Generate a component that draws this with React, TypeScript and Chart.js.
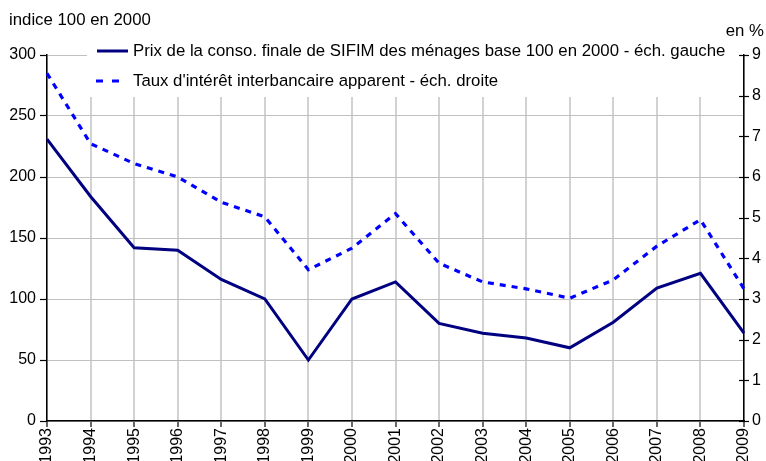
import React, { useEffect, useRef } from "react";
import { Chart, registerables } from "chart.js";

Chart.register(...registerables);

const years = ["1993","1994","1995","1996","1997","1998","1999","2000","2001","2002","2003","2004","2005","2006","2007","2008","2009"];
const prixSifim = [231, 184, 142, 140, 116, 100, 50, 100, 114, 80, 72, 68, 60, 81, 109, 121, 72];
const tauxInterbancaire = [8.55, 6.82, 6.33, 6.0, 5.38, 5.02, 3.72, 4.25, 5.1, 3.88, 3.42, 3.25, 3.02, 3.47, 4.3, 4.95, 3.25];
const legendLabels = [
  "Prix de la conso. finale de SIFIM des ménages base 100 en 2000 - éch. gauche",
  "Taux d'intérêt interbancaire apparent - éch. droite",
];
const leftTitle = "indice 100 en 2000";
const rightTitle = "en %";

const FONT = "'Liberation Sans', Arial, sans-serif";

const overlay = {
  id: "overlay",
  beforeDatasetsDraw(chart: any) {
    const ctx = chart.ctx;
    const area = chart.chartArea;
    ctx.save();
    ctx.fillStyle = "#ffffff";
    ctx.fillRect(87, 38, area.right - 2 - 87, 97 - 38);
    ctx.restore();
  },
  afterDraw(chart: any) {
    const ctx = chart.ctx;
    const area = chart.chartArea;
    ctx.save();
    ctx.fillStyle = "#000";
    ctx.font = `16.8px ${FONT}`;
    ctx.textBaseline = "middle";
    ctx.textAlign = "left";
    ctx.fillText(leftTitle, 9, 20);
    ctx.textAlign = "right";
    ctx.fillText(rightTitle, 764, 31);
    // legend
    ctx.textAlign = "left";
    ctx.lineWidth = 3;
    ctx.strokeStyle = "#000080";
    ctx.beginPath();
    ctx.moveTo(97, 51);
    ctx.lineTo(128, 51);
    ctx.stroke();
    ctx.strokeStyle = "#0000ff";
    ctx.setLineDash([7, 9]);
    ctx.beginPath();
    ctx.moveTo(96, 81);
    ctx.lineTo(128, 81);
    ctx.stroke();
    ctx.setLineDash([]);
    ctx.fillText(legendLabels[0], 133, 51);
    ctx.fillText(legendLabels[1], 133, 81);
    // right axis crossing ticks
    const y1 = chart.scales.y1;
    ctx.strokeStyle = "#000";
    ctx.lineWidth = 1.2;
    y1.ticks.forEach((t: any) => {
      const y = Math.round(y1.getPixelForValue(t.value)) + 0.5;
      ctx.beginPath();
      ctx.moveTo(area.right - 5, y);
      ctx.lineTo(area.right + 5, y);
      ctx.stroke();
    });
    ctx.restore();
  },
};

export default function App() {
  const ref = useRef<HTMLCanvasElement>(null);
  useEffect(() => {
    const chart = new Chart(ref.current!, {
      type: "line",
      data: {
        labels: years,
        datasets: [
          {
            label: legendLabels[0],
            data: prixSifim,
            borderColor: "#000080",
            borderWidth: 3,
            pointRadius: 0,
            tension: 0,
            yAxisID: "y",
          },
          {
            label: legendLabels[1],
            data: tauxInterbancaire,
            borderColor: "#0000ff",
            borderWidth: 3.2,
            borderDash: [6, 6],
            pointRadius: 0,
            tension: 0,
            yAxisID: "y1",
          },
        ],
      },
      options: {
        animation: false,
        responsive: false,
        maintainAspectRatio: false,
        layout: { padding: { top: 55, left: 0, right: 0, bottom: 0 } },
        plugins: { legend: { display: false }, tooltip: { enabled: false } },
        scales: {
          x: {
            offset: false,
            grid: { color: "#d2d2d2", lineWidth: 2, tickColor: "#000", tickLength: 6, tickWidth: 1.2 },
            border: { color: "#000", width: 1.5 },
            ticks: { color: "#000", font: { family: FONT, size: 16 }, minRotation: 90, maxRotation: 90, padding: 1, autoSkip: false },
            afterFit: (s: any) => { s.height = 40; },
          },
          y: {
            position: "left",
            min: 0,
            max: 300,
            grid: { color: "#c0c0c0", lineWidth: 1, tickColor: "#000", tickLength: 7, tickWidth: 1.2 },
            border: { color: "#000", width: 1.5 },
            ticks: { stepSize: 50, color: "#000", font: { family: FONT, size: 16 }, padding: 4 },
            afterFit: (s: any) => { s.width = 47; },
          },
          y1: {
            position: "right",
            min: 0,
            max: 9,
            grid: { display: true, drawOnChartArea: false, color: "rgba(0,0,0,0)", tickLength: 5 },
            border: { color: "#000", width: 1.5 },
            ticks: { stepSize: 1, color: "#000", font: { family: FONT, size: 16 }, padding: 3 },
            afterFit: (s: any) => { s.width = 22; },
          },
        },
      },
      plugins: [overlay],
    });
    return () => chart.destroy();
  }, []);
  return (
    <div style={{ position: "fixed", left: 0, top: 0, width: 766, height: 461, background: "#fff" }}>
      <canvas ref={ref} width={766} height={461} style={{ width: 766, height: 461 }} />
    </div>
  );
}
